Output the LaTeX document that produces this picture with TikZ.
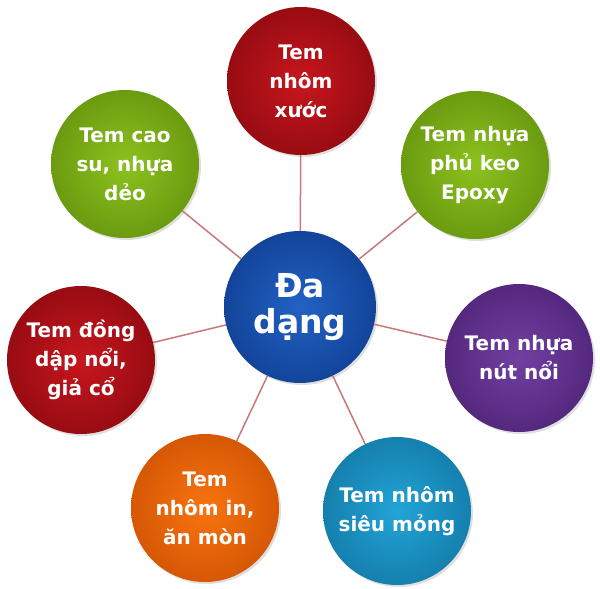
\documentclass[tikz,border=0pt]{standalone}
\usepackage{fontspec}
\setmainfont{DejaVu Sans}
\usetikzlibrary{shadows}

\definecolor{redin}{HTML}{C8161E}
\definecolor{redout}{HTML}{980C12}
\definecolor{greenin}{HTML}{8CC21F}
\definecolor{greenout}{HTML}{6B9B10}
\definecolor{bluein}{HTML}{2262C4}
\definecolor{blueout}{HTML}{13449A}
\definecolor{purplein}{HTML}{7040A0}
\definecolor{purpleout}{HTML}{55287F}
\definecolor{cyanin}{HTML}{22A4D6}
\definecolor{cyanout}{HTML}{1580AE}
\definecolor{orangein}{HTML}{F8740F}
\definecolor{orangeout}{HTML}{D65805}
\definecolor{linkcol}{HTML}{C87878}

\tikzset{
  bubble/.style={circle, minimum size=148pt, inner sep=0pt, align=center,
    text=white, font=\fontsize{20}{29}\selectfont\bfseries,
    drop shadow={opacity=0.25, shadow xshift=2pt, shadow yshift=-2pt}},
  hub/.style={bubble, minimum size=152pt, font=\fontsize{33}{36}\selectfont\bfseries},
  link/.style={draw=linkcol, line width=1.5pt}
}

\begin{document}
\begin{tikzpicture}[x=1pt, y=-1pt]
  \useasboundingbox (0,0) rectangle (600,589);
  % centre
  \node[hub, inner color=bluein, outer color=blueout] (hub) at (300,307) {Đa\\dạng};
  % outer bubbles
  \node[bubble, inner color=redin, outer color=redout] (top) at (301,81) {Tem\\nhôm\\xước};
  \node[bubble, inner color=greenin, outer color=greenout] (topright) at (475,165) {Tem nhựa\\phủ keo\\Epoxy};
  \node[bubble, inner color=purplein, outer color=purpleout] (right) at (519,358) {Tem nhựa\\nút nổi};
  \node[bubble, inner color=cyanin, outer color=cyanout] (botright) at (397,511) {Tem nhôm\\siêu mỏng};
  \node[bubble, inner color=orangein, outer color=orangeout] (botleft) at (205,508) {Tem\\nhôm in,\\ăn mòn};
  \node[bubble, inner color=redin, outer color=redout] (left) at (81,360) {Tem đồng\\dập nổi,\\giả cổ};
  \node[bubble, inner color=greenin, outer color=greenout] (topleft) at (125,164) {Tem cao\\su, nhựa\\dẻo};
  % spokes
  \draw[link] (hub) -- (top);
  \draw[link] (hub) -- (topright);
  \draw[link] (hub) -- (right);
  \draw[link] (hub) -- (botright);
  \draw[link] (hub) -- (botleft);
  \draw[link] (hub) -- (left);
  \draw[link] (hub) -- (topleft);
\end{tikzpicture}
\end{document}
